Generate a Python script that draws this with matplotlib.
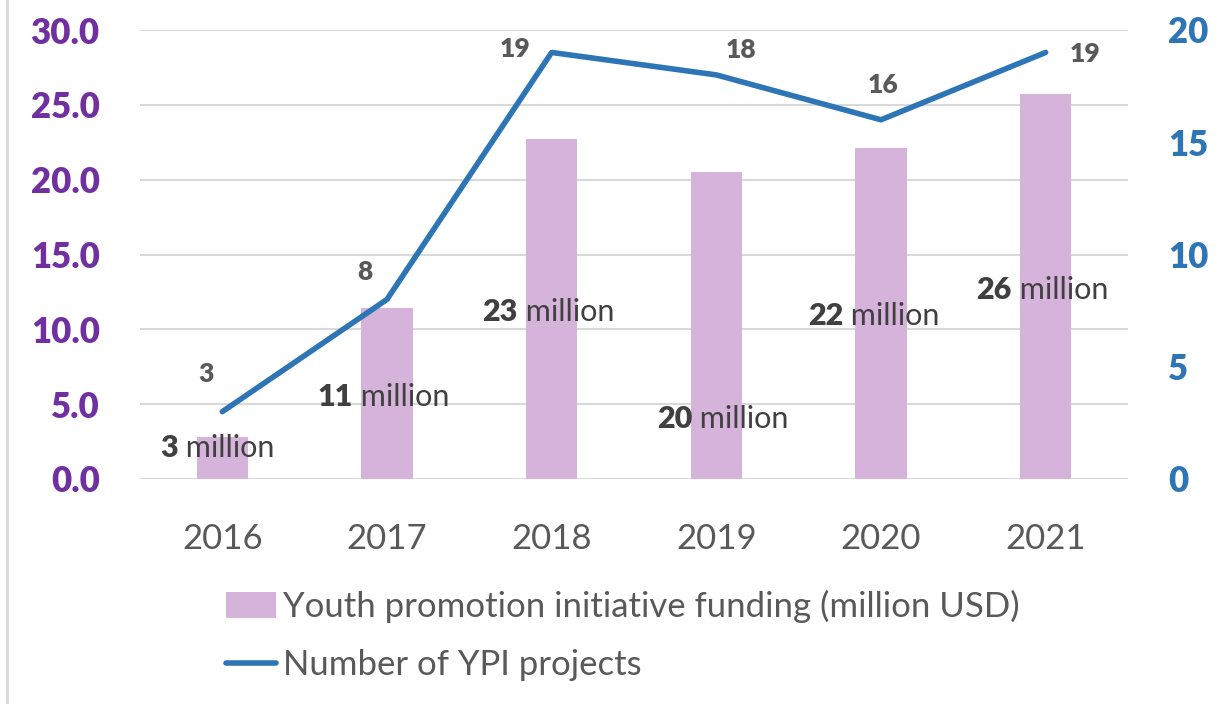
import matplotlib
matplotlib.use('Agg')
import matplotlib.pyplot as plt
from matplotlib.lines import Line2D

plt.rcParams['font.family'] = ['Lato', 'DejaVu Sans']

# data
years = ['2016', '2017', '2018', '2019', '2020', '2021']
funding = [2.8, 11.4, 22.7, 20.5, 22.1, 25.7]   # million USD, left axis
funding_lbl = ['3', '11', '23', '20', '22', '26']
projects = [3, 8, 19, 18, 16, 19]               # right axis

# where Excel put the labels (left-axis units for bars, pixel offsets for line)
bar_lbl_y = [2.07, 5.48, 11.16, 4.0, 10.9, 12.6]
bar_lbl_dx = [0, 0, 0, 10, -4, 0]
line_lbl_off = [(-16, 38), (-22, 27), (-37, 3), (25, 25), (2, 35), (39, -2)]

purple = '#7030A0'
blue = '#2E75B6'
bar_col = '#D6B3DA'
grey_txt = '#595959'
dark_txt = '#404040'
grid_col = '#D9D9D9'

fig = plt.figure(figsize=(12.2, 7.04), dpi=100)
ax = fig.add_axes([140/1220, 1-479/704, (1128-140)/1220, (479-30)/704])
ax2 = ax.twinx()

x = list(range(len(years)))
ax.bar(x, funding, width=0.31, color=bar_col, zorder=2,
       label='Youth promotion initiative funding (million USD)')
ax.set_ylim(0, 30)
ax.set_xlim(-0.5, len(years) - 0.5)
ax.set_yticks([0, 5, 10, 15, 20, 25, 30])
ax.set_yticklabels(['%.1f' % v for v in [0, 5, 10, 15, 20, 25, 30]])
ax.set_xticks(x)
ax.set_xticklabels(years)
ax.grid(axis='y', color=grid_col, linewidth=1.5, zorder=0)
ax.set_axisbelow(True)
ax.tick_params(axis='y', length=0, pad=29, labelsize=25, labelcolor=purple)
ax.tick_params(axis='x', length=0, pad=32, labelsize=25, labelcolor=grey_txt)
for lab in ax.get_yticklabels():
    lab.set_fontweight('heavy')
for s in ax.spines.values():
    s.set_visible(False)

ax2.plot(x, projects, color=blue, linewidth=4, solid_capstyle='round',
         label='Number of YPI projects', zorder=3)
ax2.set_ylim(0, 20)
ax2.set_yticks([0, 5, 10, 15, 20])
ax2.tick_params(axis='y', length=0, pad=29, labelsize=25, labelcolor=blue)
for lab in ax2.get_yticklabels():
    lab.set_fontweight('heavy')
for s in ax2.spines.values():
    s.set_visible(False)

# bar labels: bold number + regular "million"
for i in range(len(years)):
    num = funding_lbl[i]
    dx = 10*len(num) - 54 + bar_lbl_dx[i]
    t = ax.annotate(num, xy=(x[i], bar_lbl_y[i]), xytext=(dx, 0),
                    textcoords='offset pixels', ha='right', va='center',
                    fontsize=22, fontweight='heavy', color=dark_txt)
    ax.annotate(' million', xy=(1, 0), xycoords=t, ha='left', va='bottom',
                fontsize=22, color=dark_txt)

# line labels
for i in range(len(years)):
    ox, oy = line_lbl_off[i]
    ax2.annotate(str(projects[i]), xy=(x[i], projects[i]), xytext=(ox, oy),
                 textcoords='offset pixels', ha='center', va='center',
                 fontsize=19, fontweight='heavy', color=grey_txt)

h1, l1 = ax.get_legend_handles_labels()
h2, l2 = ax2.get_legend_handles_labels()
fig.legend(h1 + h2, l1 + l2, loc='upper left',
           bbox_to_anchor=(226/1220, 1-590/704), frameon=False,
           fontsize=25, labelcolor=grey_txt, handlelength=1.45,
           handleheight=0.75, handletextpad=0.2, labelspacing=0.75,
           borderaxespad=0, borderpad=0)

# thin border on the left edge
fig.add_artist(Line2D([7/1220, 7/1220], [0, 1], color=grid_col, linewidth=2,
                      transform=fig.transFigure))

fig.savefig('out.png', dpi=100)
